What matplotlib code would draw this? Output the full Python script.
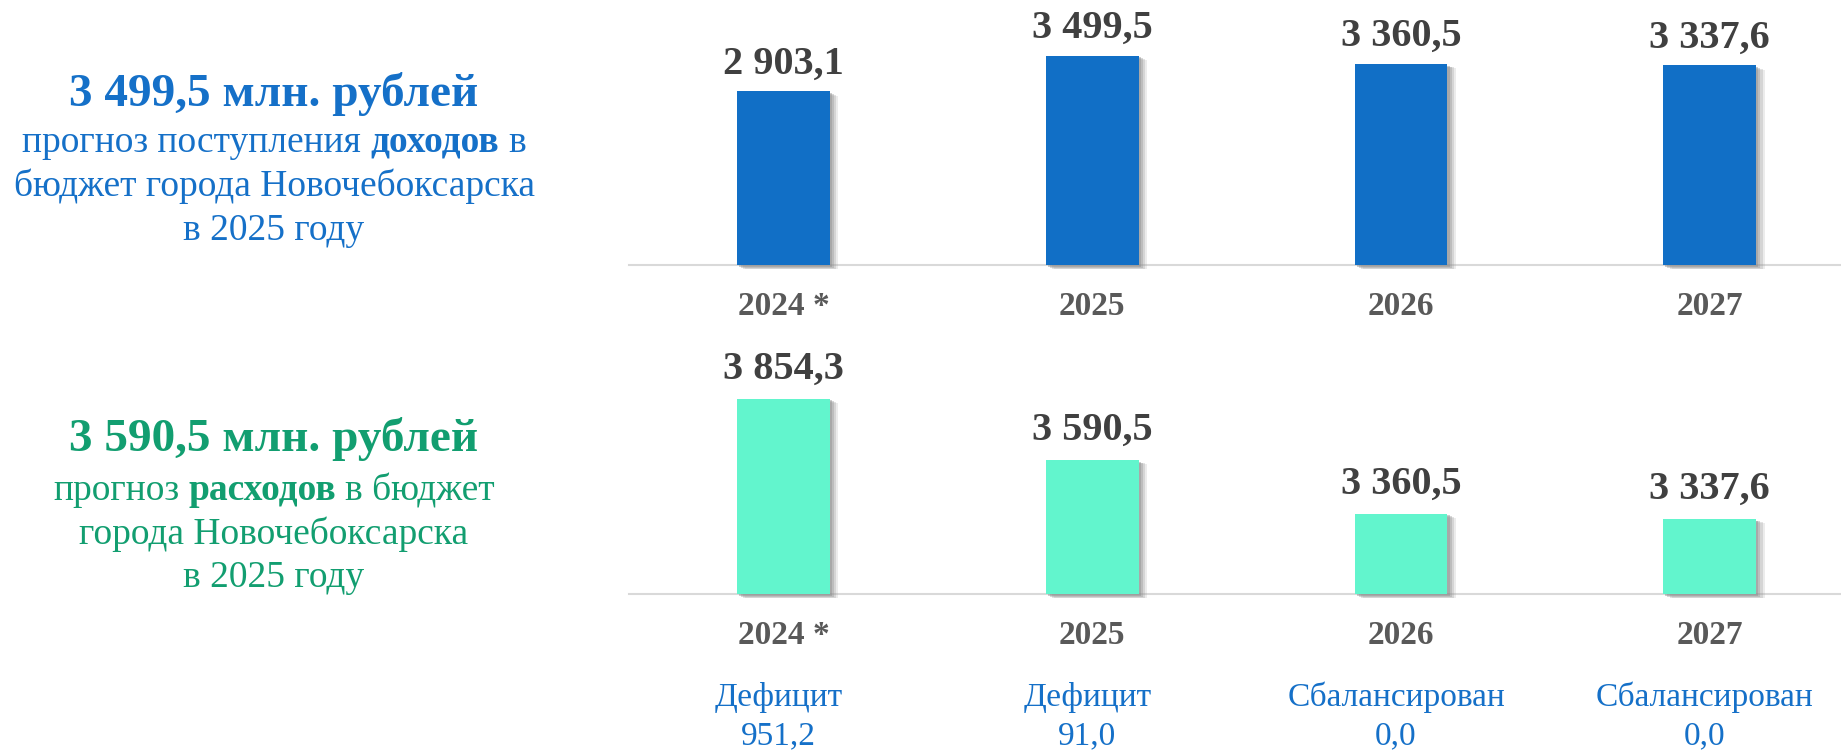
import numpy as np
import matplotlib
matplotlib.use("Agg")
import matplotlib.pyplot as plt
from matplotlib import patheffects as pe

# ---------------- data ----------------
years = ["2024 *", "2025", "2026", "2027"]
income = [2903.1, 3499.5, 3360.5, 3337.6]
expenses = [3854.3, 3590.5, 3360.5, 3337.6]
balance_status = ["Дефицит", "Дефицит", "Сбалансирован", "Сбалансирован"]
balance_values = ["951,2", "91,0", "0,0", "0,0"]

income_title = "3 499,5 млн. рублей"
income_lines = [
    [("прогноз поступления", "normal"), ("доходов", "bold"), ("в", "normal")],
    [("бюджет города Новочебоксарска", "normal")],
    [("в 2025 году", "normal")],
]
expense_title = "3 590,5 млн. рублей"
expense_lines = [
    [("прогноз", "normal"), ("расходов", "bold"), ("в бюджет", "normal")],
    [("города Новочебоксарска", "normal")],
    [("в 2025 году", "normal")],
]

# ---------------- style ----------------
FONT = ["Liberation Serif", "DejaVu Serif"]
plt.rcParams["font.family"] = FONT
BLUE_BAR = "#116FC6"
MINT_BAR = "#62F5CD"
BLUE_TXT = "#1570C8"
GREEN_TXT = "#129E70"
VAL_COL = "#404040"
CAT_COL = "#595959"
AXIS_COL = "#D9D9D9"

W, H = 1841, 750
fig = plt.figure(figsize=(W / 100, H / 100), dpi=100)


def fx(px):
    return px / W


def fy(py):
    return 1 - py / H


def fmt(v):
    return f"{v:,.1f}".replace(",", " ").replace(".", ",")


shadow = [
    pe.SimplePatchShadow(offset=(1.5, -1.2), shadow_rgbFace="#707070", alpha=0.35),
    pe.SimplePatchShadow(offset=(3.0, -1.8), shadow_rgbFace="#808080", alpha=0.3),
    pe.SimplePatchShadow(offset=(4.5, -2.4), shadow_rgbFace="#909090", alpha=0.25),
    pe.SimplePatchShadow(offset=(6.0, -3.0), shadow_rgbFace="#a0a0a0", alpha=0.2),
    pe.Normal(),
]

ax_left, ax_right = 629, 1841
unit = 308.8  # px per category


def make_axes(bottom_px, height_px, ylo, px_per_val):
    ax = fig.add_axes([fx(ax_left), fy(bottom_px), fx(ax_right - ax_left), height_px / H])
    ax.set_xlim(-0.5, -0.5 + (ax_right - ax_left) / unit)
    ax.set_ylim(ylo, ylo + height_px / px_per_val)
    for s in ("top", "left", "right"):
        ax.spines[s].set_visible(False)
    ax.spines["bottom"].set_color(AXIS_COL)
    ax.spines["bottom"].set_linewidth(1.5)
    ax.spines["bottom"].set_zorder(0.5)
    ax.set_xticks([])
    ax.set_yticks([])
    ax.patch.set_alpha(0)
    return ax


x = np.arange(len(years))

# top chart: income
ax1 = make_axes(265.3, 255.3, 0, 0.0599)
bars1 = ax1.bar(x, income, width=0.301, color=BLUE_BAR, zorder=2)
for b in bars1:
    b.set_path_effects(shadow)
    b.set_clip_on(False)
for i, v in enumerate(income):
    ax1.annotate(fmt(v), xy=(i, v), xytext=(0, 18), textcoords="offset pixels",
                 ha="center", va="baseline", fontsize=29, fontweight="bold", color=VAL_COL)
    ax1.annotate(years[i], xy=(i, 0), xycoords=("data", "axes fraction"),
                 xytext=(0, -50), textcoords="offset pixels",
                 ha="center", va="baseline", fontsize=24, fontweight="bold", color=CAT_COL)

# bottom chart: expenses
base = 3014
ax2 = make_axes(594.3, 264.3, base, 0.2328)
bars2 = ax2.bar(x, np.array(expenses) - base, bottom=base, width=0.301, color=MINT_BAR, zorder=2)
for b in bars2:
    b.set_path_effects(shadow)
    b.set_clip_on(False)
for i, v in enumerate(expenses):
    ax2.annotate(fmt(v), xy=(i, v), xytext=(0, 20), textcoords="offset pixels",
                 ha="center", va="baseline", fontsize=29, fontweight="bold", color=VAL_COL)
    ax2.annotate(years[i], xy=(i, 0), xycoords=("data", "axes fraction"),
                 xytext=(0, -50), textcoords="offset pixels",
                 ha="center", va="baseline", fontsize=24, fontweight="bold", color=CAT_COL)
    ax2.annotate(balance_status[i], xy=(i, 0), xycoords=("data", "axes fraction"),
                 xytext=(-5, -112), textcoords="offset pixels",
                 ha="center", va="baseline", fontsize=24, color=BLUE_TXT)
    ax2.annotate(balance_values[i], xy=(i, 0), xycoords=("data", "axes fraction"),
                 xytext=(-5, -150), textcoords="offset pixels",
                 ha="center", va="baseline", fontsize=24, color=BLUE_TXT)

# ---------------- left texts ----------------
renderer = fig.canvas.get_renderer()


def text_width(s, size, weight):
    t = fig.text(0, 0, s, fontsize=size, fontweight=weight)
    w = t.get_window_extent(renderer).width
    t.remove()
    return w


def rich_line(parts, cx, by, size, color):
    space = text_width("н н", size, "normal") - text_width("нн", size, "normal")
    widths = [text_width(s, size, w) for s, w in parts]
    total = sum(widths) + space * (len(parts) - 1)
    xpos = cx - total / 2
    for (s, w), wd in zip(parts, widths):
        fig.text(fx(xpos), fy(by), s, fontsize=size, fontweight=w, color=color,
                 ha="left", va="baseline")
        xpos += wd + space


cx = 274
fig.text(fx(cx), fy(106), income_title, fontsize=34, fontweight="bold",
         color=BLUE_TXT, ha="center", va="baseline")
for parts, by in zip(income_lines, [152, 196, 240]):
    rich_line(parts, cx, by, 27, BLUE_TXT)

fig.text(fx(cx), fy(450.7), expense_title, fontsize=34, fontweight="bold",
         color=GREEN_TXT, ha="center", va="baseline")
for parts, by in zip(expense_lines, [500, 543.5, 587]):
    rich_line(parts, cx, by, 27, GREEN_TXT)

fig.savefig("out.png", dpi=100)
